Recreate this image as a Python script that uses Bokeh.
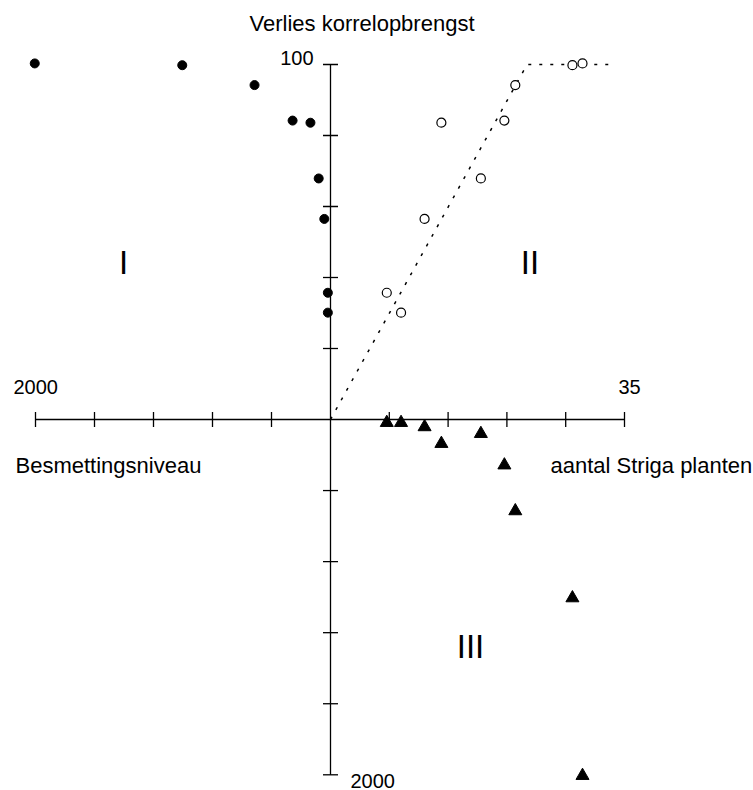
from math import pi
from bokeh.plotting import figure
from bokeh.models import Range1d
from bokeh.core.properties import value
from bokeh.embed import file_html
from bokeh.resources import INLINE

# ---------------- data ----------------
striga = [6.7, 8.4, 11.2, 13.2, 17.9, 20.7, 22.0, 28.8, 30.0]          # aantal Striga planten
loss = [35.7, 30.1, 56.5, 83.6, 67.9, 84.2, 94.2, 99.8, 100.3]         # verlies korrelopbrengst (%)
besmetting = [18, 18, 42, 136, 80, 257, 515, 1005, 2005]               # besmettingsniveau

model_striga = [0, 23.4, 34]     # dotted response line
model_loss = [0, 100, 100]

loss_ticks = [20, 40, 60, 80, 100]
striga_ticks = [7, 14, 21, 28, 35]
besm_ticks = [400, 800, 1200, 1600, 2000]

title_text = "Verlies korrelopbrengst"
x_left_label = "Besmettingsniveau"
x_right_label = "aantal Striga planten"
quadrant_labels = ["I", "II", "III"]

# ---------------- geometry ----------------
W, H = 753, 790
M = 0                      # canvas offset in the screenshot
OX, OY = 330, 419          # page position of the origin
SX = (624 - OX) / 35       # px per striga plant
BX = (OX - 35) / 2000      # px per besmetting unit (horizontal)
LY = (OY - 64) / 100       # px per % loss
BY = (774.3 - OY) / 2000   # px per besmetting unit (vertical)

x_range = Range1d((M - OX) / SX, (M + W - OX) / SX)
y_range = Range1d((OY - (M + H)) / LY, (OY - M) / LY)

p = figure(width=W, height=H, x_range=x_range, y_range=y_range,
           output_backend="svg", toolbar_location=None,
           x_axis_location=None, y_axis_location=None, min_border=0)
p.extra_x_ranges = {"besm": Range1d((OX - M) / BX, (OX - (M + W)) / BX)}
p.extra_y_ranges = {"besm": Range1d((M + H - OY) / BY, (M - OY) / BY)}
p.outline_line_color = None
p.grid.grid_line_color = None
p.background_fill_color = "white"
p.border_fill_color = "white"

def sx(px):
    return (px - OX) / SX

def ly(py):
    return (OY - py) / LY

AX = dict(line_color="black", line_width=1.3)

# axes lines
p.segment(x0=[0], y0=[0], x1=[max(striga_ticks)], y1=[0], **AX)
p.segment(x0=[0], y0=[0], x1=[max(besm_ticks)], y1=[0], x_range_name="besm", **AX)
p.segment(x0=[0], y0=[0], x1=[0], y1=[max(loss_ticks)], **AX)
p.segment(x0=[0], y0=[0], x1=[0], y1=[max(besm_ticks)], y_range_name="besm", **AX)

# ticks
p.scatter(x=[0] * len(loss_ticks), y=loss_ticks, marker="dash", size=15, **AX)
p.scatter(x=[0] * len(besm_ticks), y=besm_ticks, marker="dash", size=15,
          y_range_name="besm", **AX)
p.scatter(x=striga_ticks, y=[0] * len(striga_ticks), marker="dash", size=15,
          angle=pi / 2, **AX)
p.scatter(x=besm_ticks, y=[0] * len(besm_ticks), marker="dash", size=15,
          angle=pi / 2, x_range_name="besm", **AX)

# dotted model line
p.line(model_striga, model_loss, line_color="black", line_width=1.5, line_dash="3 8")

# quadrant I: besmetting vs loss
p.scatter(besmetting, loss, marker="circle", size=9, color="black", x_range_name="besm")
# quadrant II: striga vs loss
p.scatter(striga, loss, marker="circle", size=9, fill_color="white",
          line_color="black", line_width=1.2)
# quadrant III: striga vs besmetting
p.scatter(striga, besmetting, marker="triangle", size=13, color="black", y_range_name="besm")

FONT = value("Liberation Sans")

def label(px, py, txt, size, align="left"):
    p.text(x=[sx(px)], y=[ly(py)], text=[txt], text_font=FONT, text_font_size=size,
           text_align=align, text_baseline="middle", text_color="black")

label(361.5, 23, title_text, "22px", "center")
label(313, 57, str(max(loss_ticks)), "20px", "right")
label(13, 386, str(max(besm_ticks)), "20px", "left")
label(618, 386, str(max(striga_ticks)), "20px", "left")
label(15, 465, x_left_label, "22px", "left")
label(550, 465, x_right_label, "22px", "left")
label(350, 780, str(max(besm_ticks)), "20px", "left")

label(123, 261.5, quadrant_labels[0], "33px", "center")
label(529.5, 261.5, quadrant_labels[1], "33px", "center")
label(470, 645.5, quadrant_labels[2], "33px", "center")

open("out.html", "w").write(file_html(p, INLINE))
